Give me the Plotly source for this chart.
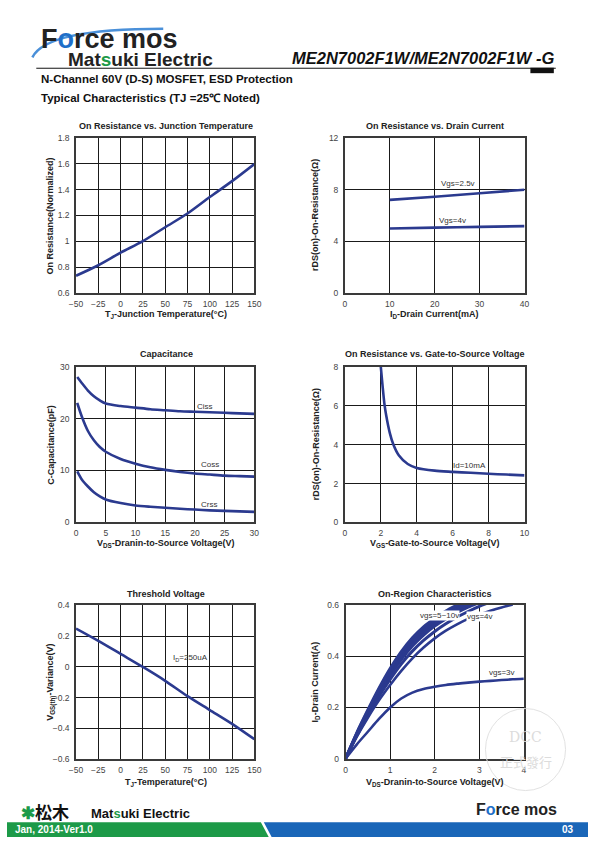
import plotly.graph_objects as go

# ---------------- data ----------------
temp_c = [-50, -25, 0, 25, 50, 75, 100, 125, 150]
ron_normalized = [0.735, 0.816, 0.913, 1.002, 1.109, 1.215, 1.342, 1.465, 1.597]

drain_ma = [10, 20, 30, 40]
ron_vgs25 = [7.2, 7.45, 7.72, 7.98]
ron_vgs4 = [5.0, 5.06, 5.12, 5.18]

vds_cap = [0.2, 1, 2, 3, 4, 5, 7.5, 10, 12.5, 15, 17.5, 20, 22.5, 25, 27.5, 30]
ciss = [28, 26.8, 25.4, 24.3, 23.5, 22.9, 22.4, 22.1, 21.8, 21.6, 21.4, 21.3, 21.2, 21.1, 21.0, 20.9]
coss = [23, 20.3, 17.6, 15.8, 14.5, 13.6, 12.2, 11.3, 10.6, 10.1, 9.7, 9.4, 9.2, 9.0, 8.9, 8.8]
crss = [9.8, 8.2, 6.9, 5.8, 5.0, 4.4, 3.7, 3.25, 3.0, 2.8, 2.6, 2.45, 2.3, 2.2, 2.1, 2.0]

vgs_sweep = [2.0, 2.1, 2.2, 2.3, 2.5, 2.7, 3.0, 3.5, 4, 5, 6, 7, 8, 9, 10]
ron_vs_vgs = [8.0, 7.0, 6.1, 5.5, 4.6, 4.0, 3.45, 3.0, 2.8, 2.66, 2.6, 2.55, 2.5, 2.46, 2.42]

vth_variance = [0.25, 0.17, 0.085, 0.0, -0.09, -0.19, -0.28, -0.37, -0.47]

vds_on = [0, 0.25, 0.5, 0.75, 1, 1.25, 1.5, 1.75, 2, 2.25, 2.5, 2.75, 3, 3.25, 3.5, 3.75, 4]
id_vgs10 = [0, 0.1, 0.19, 0.275, 0.352, 0.418, 0.472, 0.515, 0.548, 0.577, 0.6, 0.622]
id_vgs9 = [0, 0.098, 0.186, 0.27, 0.346, 0.411, 0.465, 0.508, 0.542, 0.57, 0.594, 0.615]
id_vgs8 = [0, 0.096, 0.183, 0.265, 0.34, 0.404, 0.458, 0.501, 0.535, 0.563, 0.587, 0.608]
id_vgs7 = [0, 0.094, 0.179, 0.259, 0.333, 0.396, 0.449, 0.492, 0.527, 0.555, 0.579, 0.6, 0.618]
id_vgs6 = [0, 0.092, 0.175, 0.253, 0.325, 0.387, 0.44, 0.483, 0.518, 0.546, 0.571, 0.592, 0.61]
id_vgs5 = [0, 0.088, 0.168, 0.243, 0.31, 0.37, 0.42, 0.462, 0.497, 0.527, 0.553, 0.575, 0.595, 0.612]
id_vgs4 = [0, 0.085, 0.16, 0.228, 0.288, 0.343, 0.392, 0.434, 0.47, 0.5, 0.525, 0.546, 0.563, 0.578, 0.591, 0.602]
id_vgs3 = [0, 0.055, 0.105, 0.155, 0.2, 0.235, 0.258, 0.272, 0.281, 0.288, 0.293, 0.297, 0.301, 0.304, 0.307, 0.31, 0.312]

# ---------------- layout helpers ----------------
W, H = 595, 842
def fx(x): return x / W
def fy(y): return 1 - y / H

LINE = "#2b3a8f"
FONT = "Liberation Sans"
# plot boxes in page pixels: (left, right, top, bottom)
BOX = {
    1: (70.7, 253.3, 134.3, 291.7),
    2: (346, 530, 134.3, 291.7),
    3: (70.7, 253.3, 366, 523.5),
    4: (346, 530, 366, 523.7),
    5: (70.7, 253.3, 607.7, 763.3),
    6: (346.7, 529.3, 607.3, 762.7),
}
RANGES = {
    1: ([-50, 150], 25, [0.6, 1.8], 0.2),
    2: ([0, 40], 10, [0, 12], 4),
    3: ([0, 30], 5, [0, 30], 10),
    4: ([0, 10], 2, [0, 8], 2),
    5: ([-50, 150], 25, [-0.6, 0.4], 0.2),
    6: ([0, 4], 1, [0, 0.6], 0.2),
}

fig = go.Figure()

def add_line(n, x, y, width=2.6):
    s = "" if n == 1 else str(n)
    fig.add_trace(go.Scatter(x=x, y=y, mode="lines", line=dict(color=LINE, width=width, shape="spline", smoothing=0.8),
                             xaxis="x" + s, yaxis="y" + s, showlegend=False, hoverinfo="skip"))

add_line(1, temp_c, ron_normalized)
add_line(2, drain_ma, ron_vgs25)
add_line(2, drain_ma, ron_vgs4)
add_line(3, vds_cap, ciss)
add_line(3, vds_cap, coss)
add_line(3, vds_cap, crss)
add_line(4, vgs_sweep, ron_vs_vgs)
add_line(5, temp_c, vth_variance)
for ys in [id_vgs5, id_vgs6, id_vgs7, id_vgs8, id_vgs9, id_vgs10]:
    add_line(6, vds_on[:len(ys)], ys, width=3)
add_line(6, vds_on[:len(id_vgs4)], id_vgs4)
add_line(6, vds_on[:len(id_vgs3)], id_vgs3)

layout = dict(width=W, height=H, margin=dict(l=0, r=0, t=0, b=0),
              paper_bgcolor="white", plot_bgcolor="white", showlegend=False,
              font=dict(family=FONT, color="#222"))
for n, (l, r, t, b) in BOX.items():
    xr, xd, yr, yd = RANGES[n]
    s = "" if n == 1 else str(n)
    common = dict(showline=True, mirror=True, linecolor="#3a3a3a", linewidth=1.6,
                  showgrid=True, gridcolor="#1a1a1a", gridwidth=1, zeroline=False,
                  ticks="", tickfont=dict(family=FONT, size=8.5, color="#444"), fixedrange=True)
    layout["xaxis" + s] = dict(domain=[fx(l), fx(r)], range=xr, dtick=xd, tick0=xr[0],
                               anchor="y" + s, ticklabelstandoff=2, **common)
    layout["yaxis" + s] = dict(domain=[fy(b), fy(t)], range=yr, dtick=yd, tick0=yr[0],
                               anchor="x" + s, ticklabelstandoff=3, **common)
fig.update_layout(**layout)

ann = []
def text(x, y, s, size=9, bold=True, color="#222", xanchor="center", angle=0, family=FONT):
    ann.append(dict(x=fx(x), y=fy(y), xref="paper", yref="paper", text=f"<b>{s}</b>" if bold else s,
                    showarrow=False, font=dict(size=size, color=color, family=family),
                    xanchor=xanchor, yanchor="middle", textangle=angle))

def dtext(n, x, y, s, size=8, bg=None):
    sx = "x" if n == 1 else "x" + str(n)
    sy = "y" if n == 1 else "y" + str(n)
    a = dict(x=x, y=y, xref=sx, yref=sy, text=s, showarrow=False,
             font=dict(size=size, color="#333", family=FONT), xanchor="center", yanchor="middle")
    if bg:
        a.update(bgcolor=bg, borderpad=0)
    ann.append(a)

# chart titles
text(163, 122, "On Resistance vs. Junction Temperature")
text(438, 122, "On Resistance vs. Drain Current")
text(163, 353, "Capacitance")
text(438, 353, "On Resistance vs. Gate-to-Source Voltage")
text(163, 596, "Threshold Voltage")
text(438, 596, "On-Region Characteristics")
# axis titles
text(163, 313, "T<sub>J</sub>-Junction Temperature(°C)")
text(438, 313, "I<sub>D</sub>-Drain Current(mA)")
text(163, 545, "V<sub>DS</sub>-Dranin-to-Source Voltage(V)")
text(438, 545, "V<sub>GS</sub>-Gate-to-Source Voltage(V)")
text(163, 787, "T<sub>J</sub>-Temperature(°C)")
text(438, 787, "V<sub>DS</sub>-Dranin-to-Source Voltage(V)")
text(45, 213, "On Resistance(Normalized)", angle=-90)
text(316, 213, "rDS(on)-On-Resistance(Ω)", angle=-90)
text(45, 445, "C-Capacitance(pF)", angle=-90)
text(316, 445, "rDS(on)-On-Resistance(Ω)", angle=-90)
text(45, 685, "V<sub>GS(th)</sub>-Variance(V)", angle=-90)
text(316, 685, "I<sub>D</sub>-Drain Current(A)", angle=-90)

# in-plot labels
dtext(2, 25.3, 8.45, "Vgs=2.5v")
dtext(2, 24, 5.6, "Vgs=4v")
dtext(3, 21.7, 22.3, "Ciss")
dtext(3, 22.6, 11.1, "Coss")
dtext(3, 22.3, 3.5, "Crss")
dtext(4, 6.95, 2.95, "Id=10mA")
dtext(5, 78, 0.06, "I<sub>D</sub>=250uA")
dtext(6, 2.11, 0.561, "vgs=5~10v", bg="white")
dtext(6, 3.01, 0.554, "vgs=4v", bg="white")
dtext(6, 3.5, 0.338, "vgs=3v")

# header
text(33, 34, "F<span style='color:#1f6fc8'>o</span>rce mos", size=27, xanchor="left")
text(60, 55, "M<span style='color:#222'>at</span><span style='color:#1d9a48'>s</span>uki Electric", size=19, xanchor="left")
text(562, 54, "<i>ME2N7002F1W/ME2N7002F1W -G</i>", size=16.5, xanchor="right", color="#111")
text(33, 75, "N-Channel 60V (D-S) MOSFET, ESD Protection", size=11.5, xanchor="left", color="#111")
text(33, 94, "Typical Characteristics (TJ =25℃ Noted)", size=11.5, xanchor="left", color="#111")

# footer
text(6, 834, "Jan, 2014-Ver1.0", size=10, xanchor="left", color="white")
text(583, 834, "03", size=10, xanchor="right", color="white")
text(84, 818, "M<span style='color:#111'>at</span><span style='color:#1d9a48'>s</span>uki Electric", size=13, xanchor="left", color="#111")
text(12, 816, "<span style='color:#1d9a48'>✱</span>松木", size=17, xanchor="left", color="#111", family="Noto Sans CJK JP")
text(478, 814, "F<span style='color:#1f6fc8'>o</span>rce mos", size=16, xanchor="left")

# watermark
text(531, 741, "DCC", size=14, bold=False, color="#dcdcdc", family="DejaVu Serif")
text(531, 766, "正式發行", size=13, bold=False, color="#dcdcdc", family="Noto Sans CJK TC")

fig.update_layout(annotations=ann)

def path(pts):
    return "M " + " L ".join(f"{fx(x)},{fy(y)}" for x, y in pts) + " Z"

shapes = [
    dict(type="line", xref="paper", yref="paper", x0=fx(30), x1=fx(562), y0=fy(64), y1=fy(64),
         line=dict(color="#111", width=1)),
    dict(type="rect", xref="paper", yref="paper", x0=fx(536), x1=fx(560), y0=fy(63.5), y1=fy(69),
         fillcolor="#111", line=dict(width=0)),
    dict(type="path", xref="paper", yref="paper", path=path([(0, 827), (260, 827), (268, 842), (0, 842)]),
         fillcolor="#1d9a48", line=dict(width=0)),
    dict(type="path", xref="paper", yref="paper", path=path([(263, 827), (595, 827), (595, 842), (271, 842)]),
         fillcolor="#1a66b8", line=dict(width=0)),
    dict(type="circle", xref="paper", yref="paper", x0=fx(490), x1=fx(572), y0=fy(795), y1=fy(712),
         line=dict(color="#e2e2e2", width=1)),
    dict(type="path", xref="paper", yref="paper",
         path=f"M {fx(26)},{fy(53)} Q {fx(40)},{fy(24)} {fx(160)},{fy(24)}",
         line=dict(color="#4a90d9", width=2.5)),
]
fig.update_layout(shapes=shapes)

fig.write_html("out.html", config={"displayModeBar": False},
               post_script="document.body.style.margin='0';document.body.style.overflow='hidden';")
